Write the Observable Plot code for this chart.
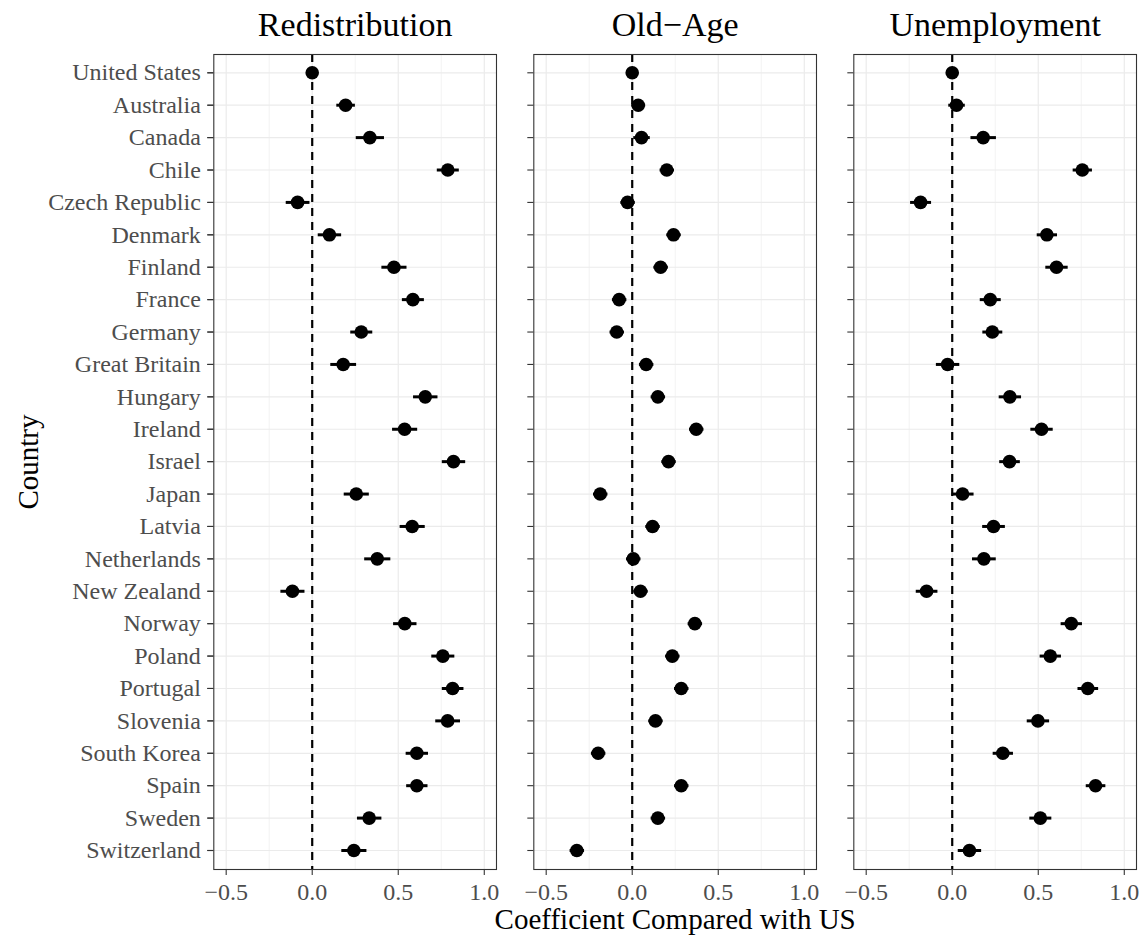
<!DOCTYPE html>
<html>
<head>
<meta charset="utf-8">
<script src="https://cdn.jsdelivr.net/npm/d3@7"></script>
<script src="https://cdn.jsdelivr.net/npm/@observablehq/plot@0.6"></script>
<style>
  html, body { margin: 0; padding: 0; background: white; }
</style>
</head>
<body>
<div id="chart"></div>
<script>
const panels = ["Redistribution", "Old\u2212Age", "Unemployment"];
const countries = ["United States","Australia","Canada","Chile","Czech Republic","Denmark","Finland","France","Germany","Great Britain","Hungary","Ireland","Israel","Japan","Latvia","Netherlands","New Zealand","Norway","Poland","Portugal","Slovenia","South Korea","Spain","Sweden","Switzerland"];

const redistribution   = [0, 0.194, 0.335, 0.788, -0.085, 0.100, 0.475, 0.585, 0.285, 0.180, 0.657, 0.537, 0.821, 0.256, 0.581, 0.378, -0.115, 0.538, 0.759, 0.816, 0.787, 0.608, 0.608, 0.331, 0.242];
const redistributionSE = [0, 0.054, 0.082, 0.064, 0.069, 0.068, 0.073, 0.064, 0.064, 0.075, 0.071, 0.073, 0.068, 0.073, 0.073, 0.076, 0.070, 0.068, 0.067, 0.063, 0.072, 0.065, 0.062, 0.071, 0.073];

const oldAge   = [0, 0.035, 0.054, 0.201, -0.027, 0.240, 0.165, -0.076, -0.090, 0.081, 0.149, 0.372, 0.211, -0.186, 0.118, 0.006, 0.048, 0.364, 0.233, 0.285, 0.135, -0.198, 0.285, 0.149, -0.322];
const oldAgeSE = [0, 0.040, 0.048, 0.042, 0.042, 0.042, 0.042, 0.042, 0.042, 0.042, 0.042, 0.042, 0.042, 0.042, 0.042, 0.042, 0.042, 0.042, 0.042, 0.042, 0.042, 0.042, 0.042, 0.042, 0.042];

const unemployment   = [0, 0.025, 0.180, 0.756, -0.184, 0.550, 0.606, 0.221, 0.233, -0.027, 0.335, 0.519, 0.333, 0.060, 0.240, 0.184, -0.149, 0.692, 0.570, 0.788, 0.498, 0.294, 0.833, 0.512, 0.100];
const unemploymentSE = [0, 0.048, 0.074, 0.056, 0.061, 0.059, 0.065, 0.061, 0.058, 0.068, 0.065, 0.065, 0.060, 0.064, 0.066, 0.069, 0.063, 0.062, 0.062, 0.060, 0.065, 0.059, 0.057, 0.064, 0.068];

const xTicks = [-0.5, 0, 0.5, 1];
const xMinor = [-0.25, 0.25, 0.75];

const series = [
  [panels[0], redistribution, redistributionSE],
  [panels[1], oldAge, oldAgeSE],
  [panels[2], unemployment, unemploymentSE]
];
const data = series.flatMap(([panel, vals, se]) =>
  countries.map((c, i) => ({panel, country: c, est: vals[i], lo: vals[i] - se[i], hi: vals[i] + se[i]}))
);

const font = "Liberation Serif, Times New Roman, serif";

const chart = Plot.plot({
  width: 1143,
  height: 940,
  marginLeft: 213.3,
  marginRight: 7,
  marginTop: 54,
  marginBottom: 71,
  style: {fontFamily: font, fontSize: "24px", background: "white", overflow: "visible"},
  fx: {domain: panels, paddingInner: 0.1166, paddingOuter: 0, round: false, axis: null, label: null},
  x: {domain: [-0.572, 1.071], label: null},
  y: {type: "point", domain: countries, range: [72.3, 850], padding: 0, round: false, label: null},
  marks: [
    Plot.gridX(xMinor, {stroke: "#EBEBEB", strokeOpacity: 1, strokeWidth: 0.6}),
    Plot.gridX(xTicks, {stroke: "#EBEBEB", strokeOpacity: 1, strokeWidth: 1.2}),
    Plot.gridY(countries, {stroke: "#EBEBEB", strokeOpacity: 1, strokeWidth: 1.2}),
    Plot.ruleX([0], {stroke: "black", strokeWidth: 2.2, strokeDasharray: "8,6"}),
    Plot.link(data, {x1: "lo", x2: "hi", y1: "country", y2: "country", fx: "panel", stroke: "black", strokeWidth: 3}),
    Plot.dot(data, {x: "est", y: "country", fx: "panel", r: 6.8, fill: "black", stroke: "none"}),
    Plot.frame({stroke: "#333333", strokeWidth: 1.1}),
    Plot.axisX(xTicks, {tickSize: 6, tickPadding: 7, fontSize: 24, color: "#4D4D4D", stroke: "#333333", strokeWidth: 1.1, tickFormat: d3.format(".1f"), label: null}),
    Plot.axisY(countries, {tickSize: 6, tickPadding: 7, fontSize: 24, color: "#4D4D4D", stroke: "#333333", strokeWidth: 1.1, facetAnchor: null, tickFormat: () => "", label: null}),
    Plot.axisY(countries, {tickSize: 6, tickPadding: 7, fontSize: 24, color: "#4D4D4D", stroke: "#333333", strokeWidth: 1.1, label: null}),
    Plot.text(panels, {fx: d => d, text: d => d, frameAnchor: "top", dy: -29, fontSize: 34, fill: "black", lineAnchor: "middle"}),
    Plot.text([panels[1]], {fx: d => d, text: () => "Coefficient Compared with US", frameAnchor: "bottom", dy: 50, fontSize: 29, fill: "black", lineAnchor: "middle", textAnchor: "middle"}),
    Plot.text([panels[0]], {fx: d => d, text: () => "Country", frameAnchor: "left", dx: -185, rotate: -90, fontSize: 29, fill: "black", lineAnchor: "middle", textAnchor: "middle"})
  ]
});
document.getElementById("chart").appendChild(chart);
</script>
</body>
</html>
